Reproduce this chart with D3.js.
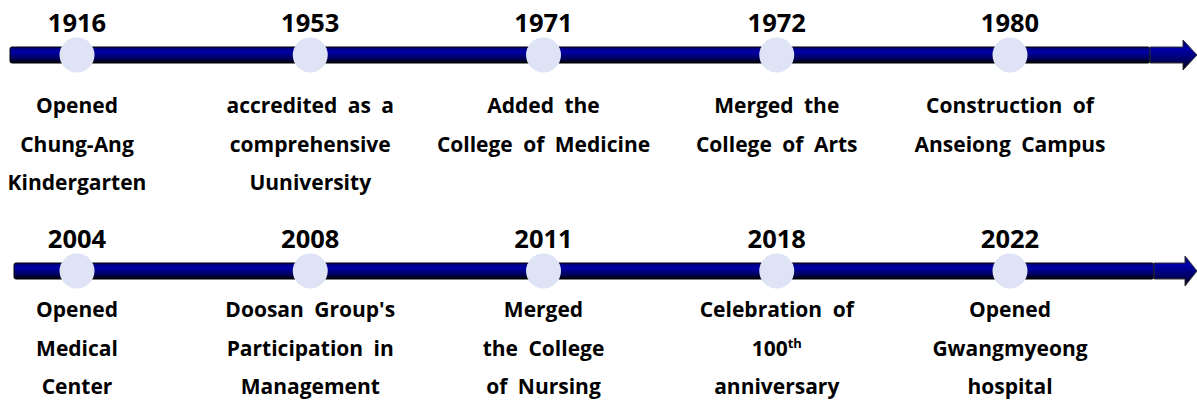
<html>
<head>
  <meta charset="utf-8">
  <title>Timeline</title>
  <script src="https://cdn.jsdelivr.net/npm/d3@7"></script>
  <style>
    body { margin: 0; background: #fff; }
    text { font-family: "Open Sans", "Noto Sans", sans-serif; font-weight: 700; fill: #000; }
  </style>
</head>
<body>
<script>
  // data
  var years = ["1916", "1953", "1971", "1972", "1980",
               "2004", "2008", "2011", "2018", "2022"];
  var events = [
    ["Opened", "Chung-Ang", "Kindergarten"],
    ["accredited as a", "comprehensive", "Uuniversity"],
    ["Added the", "College of Medicine"],
    ["Merged the", "College of Arts"],
    ["Construction of", "Anseiong Campus"],
    ["Opened", "Medical", "Center"],
    ["Doosan Group's", "Participation in", "Management"],
    ["Merged", "the College", "of Nursing"],
    ["Celebration of", "100^th", "anniversary"],
    ["Opened", "Gwangmyeong", "hospital"]
  ];
  var perRow = 5;

  var width = 1197, height = 401;
  var svg = d3.select("body").append("svg")
      .attr("width", width)
      .attr("height", height);

  // scales
  var x = d3.scaleLinear().domain([0, perRow - 1]).range([77, 1010]);
  var rowY = d3.scaleLinear().domain([0, 1]).range([55, 271]);
  var descY = d3.scaleLinear().domain([0, 1]).range([113, 317]);
  var lineH = 38.5;

  // bar gradient
  var defs = svg.append("defs");
  var grad = defs.append("linearGradient")
      .attr("id", "barGrad")
      .attr("x1", 0).attr("y1", 0).attr("x2", 0).attr("y2", 1);
  grad.append("stop").attr("offset", "0%").attr("stop-color", "#000070");
  grad.append("stop").attr("offset", "30%").attr("stop-color", "#0000a8");
  grad.append("stop").attr("offset", "65%").attr("stop-color", "#00006a");
  grad.append("stop").attr("offset", "100%").attr("stop-color", "#000008");

  var rows = [0, 1];
  var barStart = [10, 14], barEnd = [1150, 1154], headStart = [1183, 1185];

  rows.forEach(function(r) {
    var cy = rowY(r);
    var g = svg.append("g");
    // main bar
    g.append("rect")
      .attr("x", barStart[r])
      .attr("y", cy - 8)
      .attr("width", barEnd[r] - barStart[r])
      .attr("height", 16)
      .attr("rx", 2)
      .attr("fill", "url(#barGrad)")
      .attr("stroke", "#000")
      .attr("stroke-width", 1);
    // arrow head
    var p = d3.path();
    p.moveTo(barEnd[r], cy - 8);
    p.lineTo(headStart[r], cy - 8);
    p.lineTo(headStart[r], cy - 15);
    p.lineTo(1197, cy);
    p.lineTo(headStart[r], cy + 15);
    p.lineTo(headStart[r], cy + 8);
    p.lineTo(barEnd[r], cy + 8);
    p.closePath();
    g.append("path")
      .attr("d", p.toString())
      .attr("fill", "url(#barGrad)")
      .attr("stroke", "#333")
      .attr("stroke-width", 1);
  });

  var items = years.map(function(y, i) {
    return { year: y, lines: events[i], row: Math.floor(i / perRow), slot: i % perRow };
  });

  var node = svg.selectAll("g.ev")
      .data(items)
      .enter()
      .append("g")
      .attr("class", "ev");

  node.append("circle")
      .attr("cx", function(d) { return x(d.slot); })
      .attr("cy", function(d) { return rowY(d.row); })
      .attr("r", 17.5)
      .attr("fill", "#dee4f5");

  node.append("text")
      .attr("x", function(d) { return x(d.slot); })
      .attr("y", function(d) { return rowY(d.row) - 23; })
      .attr("text-anchor", "middle")
      .attr("font-size", 25.5)
      .text(function(d) { return d.year; });

  node.each(function(d) {
    var t = d3.select(this).append("text")
        .attr("text-anchor", "middle")
        .attr("font-size", 21)
        .attr("word-spacing", 5);
    d.lines.forEach(function(line, k) {
      var yy = descY(d.row) + k * lineH;
      var parts = line.split("^");
      var ts = t.append("tspan")
          .attr("x", x(d.slot))
          .attr("y", yy)
          .text(parts[0]);
      if (parts.length > 1) {
        ts.append("tspan")
          .attr("dy", -8)
          .attr("font-size", 13)
          .text(parts[1]);
      }
    });
  });
</script>
</body>
</html>
